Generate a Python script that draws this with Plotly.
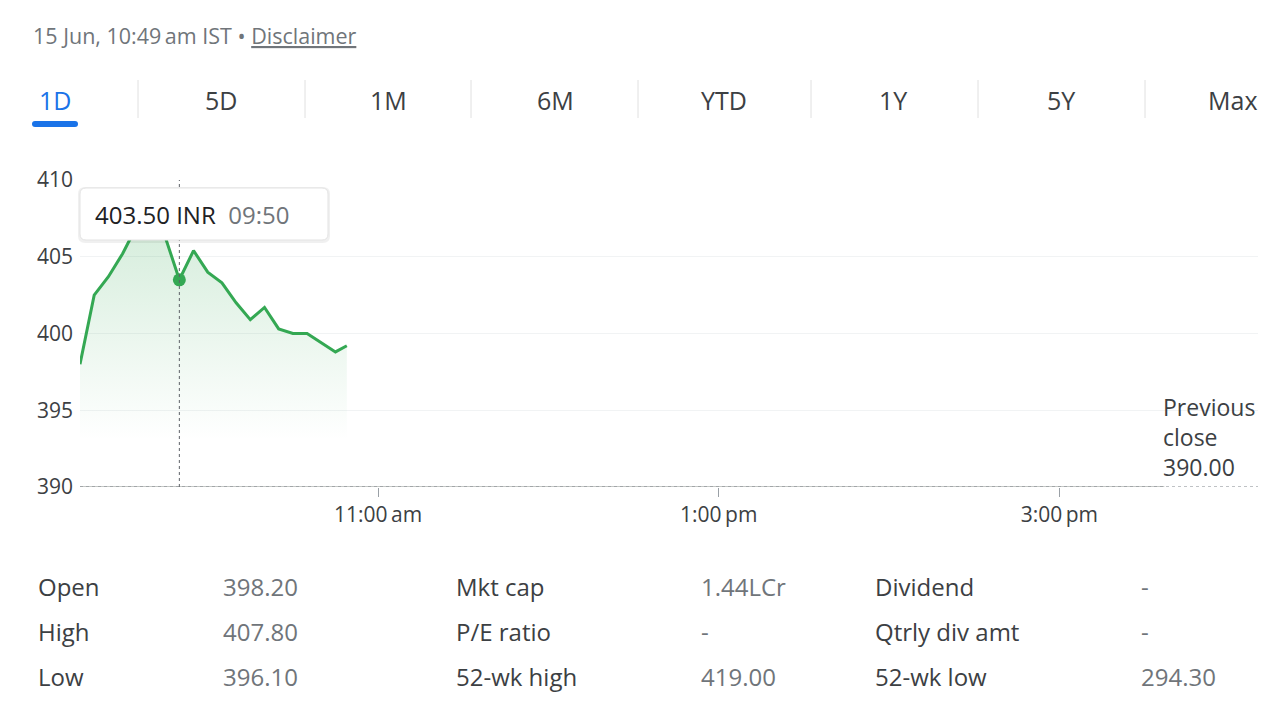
import plotly.graph_objects as go

# ---------------- data ----------------
DAY = "2023-06-15"
times = ["09:15", "09:20", "09:25", "09:30", "09:35", "09:40", "09:45", "09:50",
         "09:55", "10:00", "10:05", "10:10", "10:15", "10:20", "10:25", "10:30",
         "10:35", "10:40", "10:45", "10:49"]
prices = [398.0, 402.5, 403.7, 405.2, 407.0, 407.8, 406.3, 403.5,
          405.4, 404.0, 403.3, 402.0, 400.9, 401.7, 400.3, 400.0,
          400.0, 399.4, 398.8, 399.2]
prev_close = 390.00
hover_index = 7

tabs = ["1D", "5D", "1M", "6M", "YTD", "1Y", "5Y", "Max"]
x_tick_times = ["11:00", "13:00", "15:00"]
x_tick_text = ["11:00\u2009am", "1:00\u2009pm", "3:00\u2009pm"]
y_ticks = [390, 395, 400, 405, 410]

col1_labels = ["Open", "High", "Low"]
col1_values = ["398.20", "407.80", "396.10"]
col2_labels = ["Mkt cap", "P/E ratio", "52-wk high"]
col2_values = ["1.44LCr", "-", "419.00"]
col3_labels = ["Dividend", "Qtrly div amt", "52-wk low"]
col3_values = ["-", "-", "294.30"]

header_time = "15 Jun, 10:49\u2009am IST"

# ---------------- layout helpers ----------------
W, H = 1280, 720
L, R, T, B = 80, 22, 180, 233
PW, PH = W - L - R, H - T - B


def px(x):
    return (x - L) / PW


def py(y):
    return (H - B - y) / PH


FONT = "'Open Sans', Roboto, Arial, sans-serif"
GREEN = "#34a853"
DARK = "#3c4043"
GREY = "#70757a"

ts = [f"{DAY} {t}" for t in times]

fig = go.Figure()

# area + line
fig.add_trace(go.Scatter(
    x=ts, y=prices, mode="lines",
    line=dict(color=GREEN, width=3),
    fill="tozeroy",
    fillgradient=dict(type="vertical",
                      colorscale=[[0, "rgba(52,168,83,0)"], [1, "rgba(52,168,83,0.22)"]],
                      start=393, stop=408),
    hoverinfo="skip", showlegend=False))

# solid baseline (session) and dotted previous close line
fig.add_trace(go.Scatter(
    x=[f"{DAY} 09:15", f"{DAY} 15:37"], y=[prev_close, prev_close], mode="lines",
    line=dict(color="#c4c7c5", width=2), hoverinfo="skip", showlegend=False))
fig.add_trace(go.Scatter(
    x=[f"{DAY} 09:15", f"{DAY} 16:10"], y=[prev_close, prev_close], mode="lines",
    line=dict(color="#80868b", width=1.2, dash="dot"), hoverinfo="skip", showlegend=False))

# hover crosshair
fig.add_shape(type="line", xref="x", yref="y",
              x0=ts[hover_index], x1=ts[hover_index], y0=prev_close, y1=410.15,
              line=dict(color="#5f6368", width=1, dash="dot"), layer="above")

# hovered point
fig.add_trace(go.Scatter(
    x=[ts[hover_index]], y=[prices[hover_index]], mode="markers",
    marker=dict(color=GREEN, size=13), hoverinfo="skip", showlegend=False))


def rrect(x0, y0, x1, y1, r):
    X0, X1 = px(x0), px(x1)
    Y0, Y1 = py(y0), py(y1)
    rx, ry = r / PW, r / PH
    return (f"M {X0+rx},{Y0} L {X1-rx},{Y0} Q {X1},{Y0} {X1},{Y0-ry} "
            f"L {X1},{Y1+ry} Q {X1},{Y1} {X1-rx},{Y1} L {X0+rx},{Y1} "
            f"Q {X0},{Y1} {X0},{Y1+ry} L {X0},{Y0-ry} Q {X0},{Y0} {X0+rx},{Y0} Z")


# tooltip box (shadow + box)
fig.add_shape(type="path", xref="paper", yref="paper", path=rrect(78, 187, 330, 243, 7),
              fillcolor="rgba(0,0,0,0.06)", line=dict(width=0), layer="above")
fig.add_shape(type="path", xref="paper", yref="paper", path=rrect(80, 188, 328, 240, 6),
              fillcolor="white", line=dict(color="#e3e3e3", width=1), layer="above")
fig.add_annotation(xref="paper", yref="paper", x=px(93), y=py(214),
                   xanchor="left", yanchor="middle", showarrow=False,
                   text=f"{prices[hover_index]:.2f} INR  <span style='color:{GREY}'>{times[hover_index]}</span>",
                   font=dict(family=FONT, size=24, color="#202124"))

# header
fig.add_annotation(xref="paper", yref="paper", x=px(31), y=py(35),
                   xanchor="left", yanchor="middle", showarrow=False,
                   text=f"{header_time} \u2022 <span style='text-decoration:underline'>Disclaimer</span>",
                   font=dict(family=FONT, size=21.5, color=GREY))

# tabs
tab_centers = [55, 221, 388, 555, 724, 893, 1061, 1232]
dividers = [138, 305, 471, 638, 811, 978, 1145]
for name, cx in zip(tabs, tab_centers):
    fig.add_annotation(xref="paper", yref="paper", x=px(cx), y=py(99.5),
                       xanchor="center", yanchor="middle", showarrow=False, text=name,
                       font=dict(family=FONT, size=25,
                                 color="#1a73e8" if name == "1D" else DARK))
for dx in dividers:
    fig.add_shape(type="line", xref="paper", yref="paper",
                  x0=px(dx), x1=px(dx), y0=py(80), y1=py(118),
                  line=dict(color="#e0e0e0", width=1))
fig.add_shape(type="path", xref="paper", yref="paper", path=rrect(32, 121, 78, 127, 3),
              fillcolor="#1a73e8", line=dict(width=0))

# previous close label
fig.add_annotation(xref="paper", yref="paper", x=px(1161), y=py(437),
                   xanchor="left", yanchor="middle", showarrow=False, align="left",
                   text=f"Previous<br>close<br>{prev_close:.2f}",
                   font=dict(family=FONT, size=23, color=DARK))

# stats table
row_y = [586, 631, 676]
cols = [(36, col1_labels, 221, col1_values),
        (454, col2_labels, 699, col2_values),
        (873, col3_labels, 1139, col3_values)]
for lx, labels, vx, values in cols:
    for yy, lab, val in zip(row_y, labels, values):
        fig.add_annotation(xref="paper", yref="paper", x=px(lx), y=py(yy),
                           xanchor="left", yanchor="middle", showarrow=False, text=lab,
                           font=dict(family=FONT, size=24, color=DARK))
        fig.add_annotation(xref="paper", yref="paper", x=px(vx), y=py(yy),
                           xanchor="left", yanchor="middle", showarrow=False, text=val,
                           font=dict(family=FONT, size=24, color=GREY))

fig.update_layout(
    width=W, height=H,
    margin=dict(l=L, r=R, t=T, b=B),
    paper_bgcolor="white", plot_bgcolor="white",
    showlegend=False,
    hovermode=False,
    xaxis=dict(type="date", range=[f"{DAY} 09:15", f"{DAY} 16:10"],
               tickvals=[f"{DAY} {t}" for t in x_tick_times], ticktext=x_tick_text,
               ticks="outside", ticklen=9, tickcolor="#9aa0a6", tickwidth=1,
               showgrid=False, showline=False, zeroline=False,
               tickfont=dict(family=FONT, size=21, color=DARK)),
    yaxis=dict(range=[390, 410], tickvals=y_ticks,
               showgrid=True, gridcolor="#f1f3f4", gridwidth=1,
               zeroline=False, showline=False, ticks="", ticklabelstandoff=6,
               tickfont=dict(family=FONT, size=21, color=DARK)),
)

fig.write_html("out.html")
